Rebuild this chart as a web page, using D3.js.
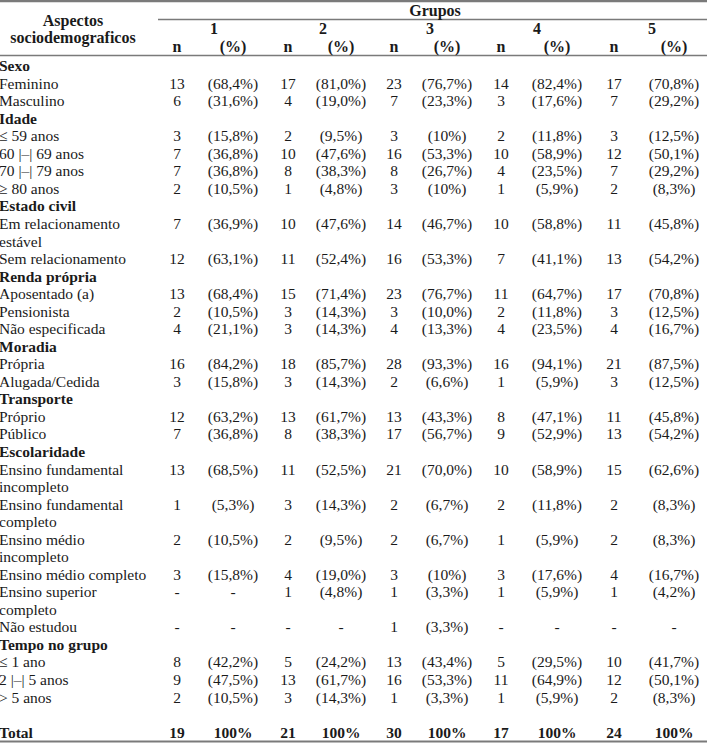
<!DOCTYPE html>
<html>
<head>
<meta charset="utf-8">
<script src="https://cdn.jsdelivr.net/npm/d3@7"></script>
<style>
  html, body { margin: 0; padding: 0; background: #fff; }
  svg { display: block; }
  text { font-family: "Liberation Serif", "Times New Roman", serif; fill: #1a1a1a; }
</style>
</head>
<body>
<svg id="chart" width="707" height="744"></svg>
<script>
// ---------- DATA ----------
const groups = ["1", "2", "3", "4", "5"];
const sectionTitles = ["Sexo", "Idade", "Estado civil", "Renda própria", "Moradia", "Transporte", "Escolaridade", "Tempo no grupo"];
const rowLabels = [
  "Feminino", "Masculino",
  "≤ 59 anos", "60 |–| 69 anos", "70 |–| 79 anos", "≥ 80 anos",
  "Em relacionamento\nestável", "Sem relacionamento",
  "Aposentado (a)", "Pensionista", "Não especificada",
  "Própria", "Alugada/Cedida",
  "Próprio", "Público",
  "Ensino fundamental\nincompleto", "Ensino fundamental\ncompleto", "Ensino médio\nincompleto",
  "Ensino médio completo", "Ensino superior\ncompleto", "Não estudou",
  "≤ 1 ano", "2 |–| 5 anos", "> 5 anos",
  "Total"
];
// section index of each row (-1 = total row)
const rowSection = [0,0, 1,1,1,1, 2,2, 3,3,3, 4,4, 5,5, 6,6,6,6,6,6, 7,7,7, -1];

const n1 = ["13","6","3","7","7","2","7","12","13","2","4","16","3","12","7","13","1","2","3","-","-","8","9","2","19"];
const p1 = ["68,4","31,6","15,8","36,8","36,8","10,5","36,9","63,1","68,4","10,5","21,1","84,2","15,8","63,2","36,8","68,5","5,3","10,5","15,8","-","-","42,2","47,5","10,5","100"];
const n2 = ["17","4","2","10","8","1","10","11","15","3","3","18","3","13","8","11","3","2","4","1","-","5","13","3","21"];
const p2 = ["81,0","19,0","9,5","47,6","38,3","4,8","47,6","52,4","71,4","14,3","14,3","85,7","14,3","61,7","38,3","52,5","14,3","9,5","19,0","4,8","-","24,2","61,7","14,3","100"];
const n3 = ["23","7","3","16","8","3","14","16","23","3","4","28","2","13","17","21","2","2","3","1","1","13","16","1","30"];
const p3 = ["76,7","23,3","10","53,3","26,7","10","46,7","53,3","76,7","10,0","13,3","93,3","6,6","43,3","56,7","70,0","6,7","6,7","10","3,3","3,3","43,4","53,3","3,3","100"];
const n4 = ["14","3","2","10","4","1","10","7","11","2","4","16","1","8","9","10","2","1","3","1","-","5","11","1","17"];
const p4 = ["82,4","17,6","11,8","58,9","23,5","5,9","58,8","41,1","64,7","11,8","23,5","94,1","5,9","47,1","52,9","58,9","11,8","5,9","17,6","5,9","-","29,5","64,9","5,9","100"];
const n5 = ["17","7","3","12","7","2","11","13","17","3","4","21","3","11","13","15","2","2","4","1","-","10","12","2","24"];
const p5 = ["70,8","29,2","12,5","50,1","29,2","8,3","45,8","54,2","70,8","12,5","16,7","87,5","12,5","45,8","54,2","62,6","8,3","8,3","16,7","4,2","-","41,7","50,1","8,3","100"];

const nSeries = [n1, n2, n3, n4, n5];
const pSeries = [p1, p2, p3, p4, p5];

// ---------- LAYOUT ----------
const W = 707, H = 744;
const svg = d3.select("#chart");

// build line layout
const lines = [];   // {line, kind, text, row}
let line = 0, prevSec = null;
rowLabels.forEach((lab, i) => {
  const sec = rowSection[i];
  if (sec === -1) {
    line += 1; // blank line before total
  } else if (sec !== prevSec) {
    lines.push({ line: line, kind: "section", text: sectionTitles[sec] });
    line += 1;
  }
  prevSec = sec;
  const parts = lab.split("\n");
  lines.push({ line: line, kind: sec === -1 ? "total" : "row", text: parts, row: i });
  line += parts.length;
});
const totalLines = line - 1;

const y = d3.scaleLinear().domain([0, totalLines]).range([66, 66 + totalLines * 17.54]);
const xN = d3.scaleOrdinal().domain(groups).range([177, 288, 394, 501, 614]);
const xP = d3.scaleOrdinal().domain(groups).range([233, 341, 447, 557, 674]);
const xG = d3.scaleOrdinal().domain(groups).range([214, 323, 430, 537, 652]);

const FS = 15.5;

// ---------- RULES ----------
const rule = (x1, x2, yy, w) => svg.append("line")
  .attr("x1", x1).attr("x2", x2).attr("y1", yy).attr("y2", yy)
  .attr("stroke", "#7a7a7a").attr("stroke-width", w);
rule(0, W, 1, 2.5);
rule(158, W, 19.5, 1.3);
rule(0, W, 55.5, 1.6);
rule(0, W, 741.5, 2);

// ---------- HEADER ----------
const head = svg.append("g").attr("font-weight", "bold").attr("font-size", 16).attr("text-anchor", "middle");
head.append("text").attr("x", 73).attr("y", 26).text("Aspectos");
head.append("text").attr("x", 73).attr("y", 43).text("sociodemograficos");
head.append("text").attr("x", 435).attr("y", 15.5).text("Grupos");
head.selectAll("text.g").data(groups).join("text").attr("class", "g")
  .attr("x", d => xG(d)).attr("y", 33.5).text(d => d);
head.selectAll("text.hn").data(groups).join("text").attr("class", "hn")
  .attr("x", d => xN(d)).attr("y", 52).text("n");
head.selectAll("text.hp").data(groups).join("text").attr("class", "hp")
  .attr("x", d => xP(d)).attr("y", 52).text("(%)");

// ---------- BODY ----------
const body = svg.append("g").attr("font-size", FS);

lines.forEach(L => {
  if (L.kind === "section") {
    body.append("text").attr("x", -1).attr("y", y(L.line)).attr("dy", "0.33em")
      .attr("font-weight", "bold").text(L.text);
  } else {
    const bold = L.kind === "total";
    L.text.forEach((t, k) => {
      body.append("text").attr("x", -1).attr("y", y(L.line + k)).attr("dy", "0.33em")
        .attr("font-weight", bold ? "bold" : null).text(t);
    });
    const cells = [];
    groups.forEach((g, gi) => {
      const nv = nSeries[gi][L.row];
      const pv = pSeries[gi][L.row];
      cells.push({ x: xN(g), t: nv });
      let pt;
      if (pv === "-") pt = "-";
      else if (bold) pt = pv + "%";
      else pt = "(" + pv + "%)";
      cells.push({ x: xP(g), t: pt });
    });
    body.append("g").attr("text-anchor", "middle").attr("font-weight", bold ? "bold" : null)
      .selectAll("text").data(cells).join("text")
      .attr("x", d => d.x).attr("y", y(L.line)).attr("dy", "0.33em")
      .text(d => d.t);
  }
});
</script>
</body>
</html>
